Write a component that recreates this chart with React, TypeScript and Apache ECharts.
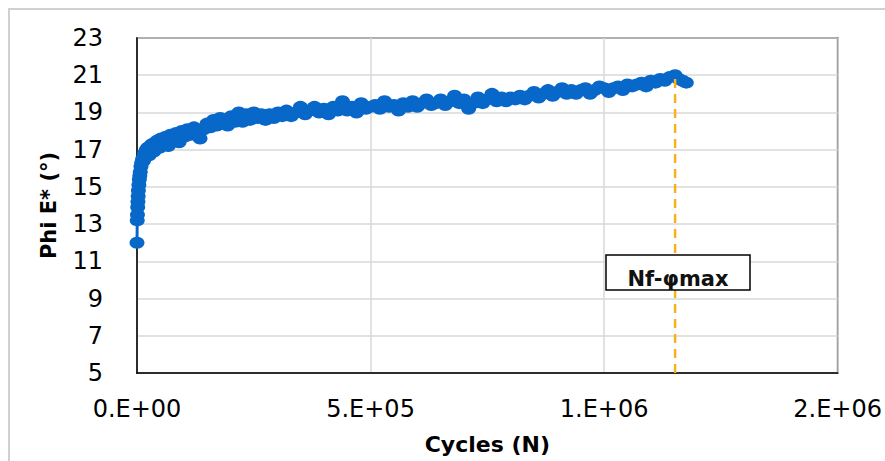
import React, { useEffect, useRef } from "react";
import * as echarts from "echarts";

// Cycles (N)
const cycles: number[] = [
  0, 500, 1000, 1500, 2000, 2500, 3000, 4000, 5000, 6000, 7000, 8500, 10000, 12000, 14000, 16000, 18000, 20000,
  23000, 26000, 29000, 32000, 36000, 40000, 44000, 48000, 52000, 57000, 62000, 67000, 72000, 78000, 84000, 90000,
  96000, 102000, 108000, 115000, 122000, 129000, 135000, 143000, 150000, 157000, 164000, 171000, 178000, 186000,
  194000, 202000, 210000, 218000, 226000, 234000, 242000, 250000, 258000, 266000, 275000, 284000, 293000, 302000,
  311000, 320000, 330000, 340000, 350000, 360000, 370000, 380000, 390000, 400000, 410000, 420000, 430000, 440000,
  450000, 460000, 470000, 480000, 490000, 500000, 510000, 520000, 530000, 540000, 550000, 560000, 570000, 580000,
  590000, 600000, 610000, 620000, 630000, 640000, 650000, 660000, 670000, 680000, 690000, 700000, 710000, 720000,
  730000, 740000, 750000, 760000, 770000, 780000, 790000, 800000, 810000, 820000, 830000, 840000, 850000, 860000,
  870000, 880000, 890000, 900000, 910000, 920000, 930000, 940000, 950000, 960000, 970000, 980000, 990000, 1000000,
  1010000, 1020000, 1030000, 1040000, 1050000, 1060000, 1070000, 1080000, 1090000, 1100000, 1110000, 1120000,
  1130000, 1140000, 1152000, 1160000, 1168000, 1176000,
];

// Phi E* (°)
const phi: number[] = [
  12.0, 13.2, 13.5, 13.9, 14.2, 14.5, 14.8, 15.1, 15.4, 15.6, 15.8, 16.1, 16.3, 16.5, 16.4, 16.8, 16.6, 17.0,
  17.1, 16.7, 17.2, 17.3, 16.9, 17.4, 17.5, 17.1, 17.6, 17.3, 17.7, 17.2, 17.8, 17.5, 17.9, 17.4,
  18.0, 17.7, 18.1, 17.8, 18.2, 17.9, 17.6, 18.1, 18.4, 18.2, 18.6, 18.3, 18.7, 18.4,
  18.3, 18.8, 18.5, 19.0, 18.5, 18.9, 18.6, 19.0, 18.7, 18.9, 18.6, 18.9, 18.7, 19.0,
  18.8, 19.1, 18.8, 19.0, 19.3, 18.9, 19.1, 19.3, 19.0, 19.2, 18.9, 19.3, 19.1, 19.6,
  19.1, 19.3, 19.0, 19.5, 19.2, 19.3, 19.4, 19.2, 19.6, 19.3, 19.4, 19.1, 19.5, 19.3,
  19.6, 19.3, 19.5, 19.7, 19.4, 19.5, 19.7, 19.4, 19.6, 19.9, 19.5, 19.7, 19.2, 19.5,
  19.8, 19.5, 19.7, 20.0, 19.6, 19.8, 19.6, 19.8, 19.7, 19.9, 19.7, 19.9, 20.1, 19.8,
  20.0, 20.2, 19.9, 20.1, 20.3, 20.0, 20.2, 20.0, 20.2, 20.3, 20.0, 20.2, 20.4, 20.3,
  20.1, 20.3, 20.4, 20.2, 20.5, 20.4, 20.5, 20.6, 20.4, 20.7, 20.6, 20.8,
  20.7, 20.9, 21.0, 20.8, 20.7, 20.6,
];

const xTickLabels: string[] = ["0.E+00", "5.E+05", "1.E+06", "2.E+06"];
const yTicks: number[] = [5, 7, 9, 11, 13, 15, 17, 19, 21, 23];

const nfCycle = 1152000;
const phiMax = 21.0;
const nfLabel = "Nf-φmax";
const xTitle = "Cycles (N)";
const yTitle = "Phi E* (°)";

const X_MIN = 0;
const X_MAX = 1500000;
const X_STEP = 500000;

export default function App() {
  const ref = useRef<HTMLDivElement>(null);

  useEffect(() => {
    if (!ref.current) return;
    const chart = echarts.init(ref.current, undefined, { renderer: "svg" });
    const blue = "#0868C9";
    const font = "DejaVu Sans";
    const series = cycles.map((c, i) => [c, phi[i]]);

    chart.setOption({
      animation: false,
      backgroundColor: "#fff",
      grid: {
        left: 137,
        top: 38,
        right: 46,
        bottom: 88,
        show: true,
        borderColor: "#000",
        borderWidth: 1.5,
        backgroundColor: "transparent",
      },
      xAxis: {
        type: "value",
        min: X_MIN,
        max: X_MAX,
        interval: X_STEP,
        name: xTitle,
        nameLocation: "middle",
        nameGap: 60,
        nameTextStyle: { fontFamily: font, fontSize: 22, fontWeight: "bold", color: "#000" },
        axisLine: { show: true, lineStyle: { color: "#000", width: 1.5 } },
        axisTick: { show: false },
        axisLabel: {
          margin: 24,
          fontFamily: font,
          fontSize: 24,
          color: "#000",
          formatter: (v: number) => xTickLabels[Math.round((v - X_MIN) / X_STEP)] ?? "",
        },
        splitLine: { show: true, lineStyle: { color: "#D9D9D9", width: 1.5 } },
      },
      yAxis: {
        type: "value",
        min: yTicks[0],
        max: yTicks[yTicks.length - 1],
        interval: yTicks[1] - yTicks[0],
        name: yTitle,
        nameLocation: "middle",
        nameGap: 78,
        nameRotate: 90,
        nameTextStyle: { fontFamily: font, fontSize: 21, fontWeight: "bold", color: "#000" },
        axisLine: { show: true, lineStyle: { color: "#000", width: 1.5 } },
        axisTick: { show: false },
        axisLabel: { margin: 34, fontFamily: font, fontSize: 24, color: "#000" },
        splitLine: { show: true, lineStyle: { color: "#D9D9D9", width: 1.5 } },
      },
      series: [
        {
          type: "line",
          data: series,
          symbol: "circle",
          symbolSize: [15, 12],
          itemStyle: { color: blue },
          lineStyle: { color: blue, width: 3 },
          z: 3,
        },
        {
          type: "line",
          data: [
            [nfCycle, yTicks[0]],
            [nfCycle, phiMax],
          ],
          symbol: "none",
          lineStyle: { color: "#F6B21E", width: 2.5, type: [9, 6] },
          z: 4,
        },
      ],
      graphic: [
        {
          type: "rect",
          shape: { x: 9, y: 9, width: 900, height: 480 },
          style: { fill: "none", stroke: "#D0D0D0", lineWidth: 2 },
          silent: true,
        },
        {
          type: "rect",
          shape: { x: 606, y: 255, width: 144, height: 35 },
          style: { fill: "#fff", stroke: "#000", lineWidth: 1.5 },
          z: 10,
        },
        {
          type: "text",
          x: 678,
          y: 279,
          style: {
            text: nfLabel,
            fontFamily: font,
            fontSize: 21,
            fontWeight: "bold",
            fill: "#111",
            align: "center",
            verticalAlign: "middle",
          },
          z: 11,
        },
      ],
    });

    return () => chart.dispose();
  }, []);

  return <div ref={ref} style={{ width: 885, height: 461, position: "absolute", left: 0, top: 0 }} />;
}
